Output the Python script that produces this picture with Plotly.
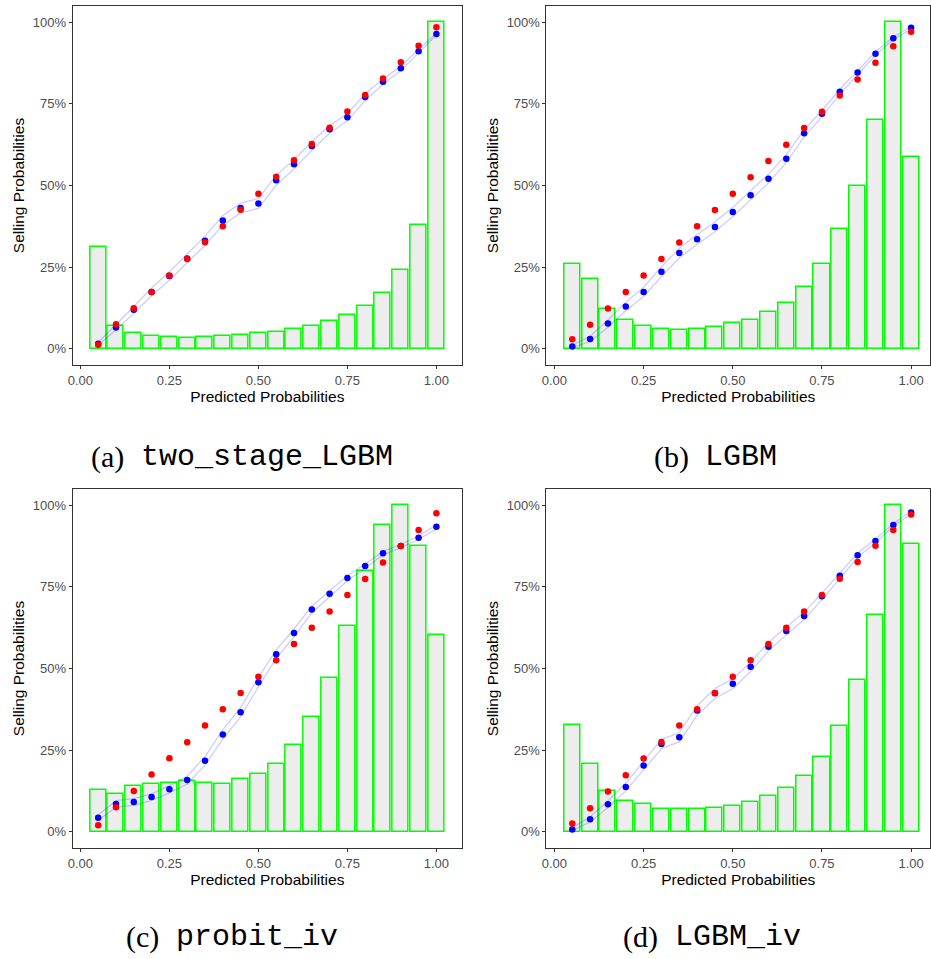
import plotly.graph_objects as go

# ---------------- data (percent) ----------------
bins = [0.05, 0.10, 0.15, 0.20, 0.25, 0.30, 0.35, 0.40, 0.45, 0.50,
        0.55, 0.60, 0.65, 0.70, 0.75, 0.80, 0.85, 0.90, 0.95, 1.00]

x_tick_vals = [0.0, 0.25, 0.50, 0.75, 1.00]
x_tick_text = ["0.00", "0.25", "0.50", "0.75", "1.00"]
y_tick_vals = [0.0, 0.25, 0.50, 0.75, 1.00]
y_tick_text = ["0%", "25%", "50%", "75%", "100%"]

letters = ["(a)", "(b)", "(c)", "(d)"]
model_names = ["two_stage_LGBM", "LGBM", "probit_iv", "LGBM_iv"]

# histogram of predictions (scaled so the tallest bar = 100%)
bars_a = [31.2, 6.9, 4.7, 3.9, 3.6, 3.4, 3.5, 3.8, 4.1, 4.7,
          5.1, 5.9, 7.0, 8.4, 10.3, 13.1, 17.0, 24.0, 37.8, 100.0]
bars_b = [25.8, 21.4, 12.1, 8.7, 7.0, 5.9, 5.7, 5.9, 6.5, 7.9,
          8.8, 11.1, 14.0, 18.8, 25.9, 36.6, 49.8, 70.0, 100.0, 58.6]
bars_c = [12.9, 11.7, 13.9, 14.5, 15.0, 15.6, 14.9, 14.5, 16.0, 17.6,
          20.8, 26.5, 35.0, 47.0, 63.0, 79.8, 94.1, 100.0, 87.4, 60.2]
bars_d = [32.7, 20.6, 12.6, 9.4, 8.4, 7.1, 6.9, 6.9, 7.3, 7.8,
          9.2, 10.8, 13.5, 17.2, 22.9, 32.4, 46.6, 66.3, 100.0, 88.0]

# observed selling probability per bin (blue)
observed_a = [1.5, 6.5, 11.9, 17.4, 22.3, 27.6, 33.1, 39.3, 43.1, 44.5,
              51.6, 56.5, 62.1, 67.2, 70.9, 77.1, 81.8, 85.9, 91.1, 96.4]
observed_b = [0.7, 3.0, 7.7, 12.9, 17.4, 23.6, 29.3, 33.5, 37.3, 41.9,
              47.0, 52.1, 58.2, 66.0, 72.0, 78.7, 84.6, 90.4, 95.1, 98.3]
observed_c = [4.3, 8.5, 9.1, 10.6, 13.0, 15.8, 21.7, 29.8, 36.6, 45.8,
              54.4, 60.9, 68.1, 72.9, 77.7, 81.4, 85.3, 87.5, 90.1, 93.4]
observed_d = [0.7, 3.8, 8.4, 13.7, 20.3, 26.9, 28.9, 37.1, 42.4, 45.3,
              50.5, 56.7, 61.5, 66.1, 72.1, 78.4, 84.7, 89.1, 94.0, 97.8]

# mean predicted probability per bin (red)
predicted_a = [1.2, 7.5, 12.4, 17.4, 22.4, 27.5, 32.6, 37.5, 42.6, 47.5,
               52.7, 57.7, 62.7, 67.7, 72.7, 77.7, 82.8, 87.8, 92.8, 98.5]
predicted_b = [2.9, 7.3, 12.3, 17.4, 22.4, 27.5, 32.5, 37.5, 42.5, 47.5,
               52.5, 57.5, 62.5, 67.6, 72.6, 77.6, 82.5, 87.6, 92.7, 97.1]
predicted_c = [2.0, 7.5, 12.5, 17.5, 22.5, 27.4, 32.5, 37.5, 42.5, 47.5,
               52.5, 57.5, 62.5, 67.5, 72.5, 77.4, 82.5, 87.5, 92.4, 97.6]
predicted_d = [2.5, 7.2, 12.3, 17.3, 22.4, 27.5, 32.5, 37.5, 42.5, 47.5,
               52.5, 57.5, 62.5, 67.5, 72.5, 77.5, 82.6, 87.6, 92.4, 97.2]

# half-width of the confidence band around the observed values
band_a = [0.4, 0.8, 1.0, 1.2, 1.3, 1.4, 1.4, 1.5, 1.5, 1.5,
          1.5, 1.4, 1.3, 1.2, 1.1, 1.0, 0.8, 0.7, 0.5, 0.3]
band_b = [0.4, 0.8, 1.1, 1.3, 1.4, 1.5, 1.5, 1.5, 1.5, 1.4,
          1.4, 1.3, 1.2, 1.1, 0.9, 0.8, 0.6, 0.5, 0.4, 0.4]
band_c = [0.8, 1.0, 1.0, 1.0, 1.1, 1.2, 1.3, 1.4, 1.4, 1.4,
          1.3, 1.2, 1.0, 0.9, 0.8, 0.6, 0.5, 0.5, 0.5, 0.6]
band_d = [0.4, 0.8, 1.0, 1.2, 1.3, 1.4, 1.4, 1.5, 1.5, 1.5,
          1.4, 1.3, 1.2, 1.1, 1.0, 0.8, 0.7, 0.5, 0.4, 0.4]

bars_all = [bars_a, bars_b, bars_c, bars_d]
obs_all = [observed_a, observed_b, observed_c, observed_d]
pred_all = [predicted_a, predicted_b, predicted_c, predicted_d]
band_all = [band_a, band_b, band_c, band_d]

# ---------------- layout geometry ----------------
W, H = 931, 959
# frames in pixels: (left, right, top, bottom)
frames = [(68, 460, 6, 365), (545, 931, 6, 365),
          (68, 460, 489, 848), (545, 931, 489, 848)]
x_ranges = [[-0.022, 1.072], [-0.0223, 1.0529], [-0.022, 1.072], [-0.0223, 1.0529]]
y_range = [-0.05, 1.05]

caption_y = [457, 457, 937, 937]
mono_start = [135, 703, 170, 672]

fig = go.Figure()

for i in range(4):
    xa = "x" if i == 0 else f"x{i+1}"
    ya = "y" if i == 0 else f"y{i+1}"
    bars = [v / 100 for v in bars_all[i]]
    obs = [v / 100 for v in obs_all[i]]
    pred = [v / 100 for v in pred_all[i]]
    upper = [(o + b) / 100 for o, b in zip(obs_all[i], band_all[i])]
    lower = [(o - b) / 100 for o, b in zip(obs_all[i], band_all[i])]

    fig.add_trace(go.Bar(x=bins, y=bars, width=0.045, xaxis=xa, yaxis=ya,
                         marker=dict(color="#EDEDED", line=dict(color="#00FF00", width=1.5)),
                         hoverinfo="skip"))
    for band in (upper, lower):
        fig.add_trace(go.Scatter(x=bins, y=band, mode="lines", xaxis=xa, yaxis=ya,
                                 line=dict(color="rgba(0,0,255,0.2)", width=1.3)))
    fig.add_trace(go.Scatter(x=bins, y=obs, mode="markers", xaxis=xa, yaxis=ya,
                             marker=dict(color="#0000FF", size=6.5)))
    fig.add_trace(go.Scatter(x=bins, y=pred, mode="markers", xaxis=xa, yaxis=ya,
                             marker=dict(color="#FF0000", size=6.5)))

    l, r, t, b = frames[i]
    axis_common = dict(showline=True, linecolor="#333333", linewidth=1, mirror=True,
                       showgrid=False, zeroline=False, ticks="outside", ticklen=3,
                       tickwidth=1, tickcolor="#333333",
                       tickfont=dict(family="Liberation Sans", size=13, color="#4D4D4D"))
    xkey = "xaxis" if i == 0 else f"xaxis{i+1}"
    ykey = "yaxis" if i == 0 else f"yaxis{i+1}"
    fig.update_layout(**{
        xkey: dict(domain=[l / W, r / W], range=x_ranges[i], anchor=ya,
                   tickvals=x_tick_vals, ticktext=x_tick_text,
                   title=dict(text="Predicted Probabilities", standoff=3,
                              font=dict(family="Liberation Sans", size=15.5, color="black")),
                   **axis_common),
        ykey: dict(domain=[1 - b / H, 1 - t / H], range=y_range, anchor=xa,
                   tickvals=y_tick_vals, ticktext=y_tick_text,
                   title=dict(text="Selling Probabilities", standoff=4,
                              font=dict(family="Liberation Sans", size=15.5, color="black")),
                   **axis_common),
    })

    fig.add_annotation(xref="paper", yref="paper", x=(mono_start[i] - 13) / W,
                       y=1 - caption_y[i] / H, xanchor="right", yanchor="middle",
                       text=letters[i], showarrow=False,
                       font=dict(family="Liberation Serif", size=30, color="black"))
    fig.add_annotation(xref="paper", yref="paper", x=mono_start[i] / W,
                       y=1 - caption_y[i] / H, xanchor="left", yanchor="middle",
                       text=model_names[i], showarrow=False,
                       font=dict(family="Liberation Mono", size=30, color="black"))

fig.update_layout(width=W, height=H, margin=dict(l=0, r=0, t=0, b=0),
                  plot_bgcolor="white", paper_bgcolor="white", showlegend=False,
                  bargap=0)

fig.write_html("out.html",
               config={"displayModeBar": False},
               post_script="document.body.style.margin='0';"
                           "document.body.style.overflow='hidden';")
